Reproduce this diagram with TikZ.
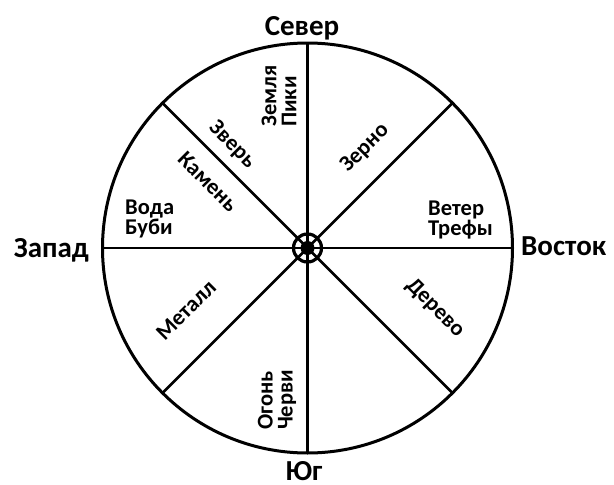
\documentclass[tikz,border=0pt]{standalone}
\usepackage{fontspec}
\setmainfont{Carlito}
\begin{document}
\begin{tikzpicture}[x=1pt,y=-1pt,
  ln/.style={line width=2.6pt},
  dirlbl/.style={font=\bfseries\fontsize{29}{32}\selectfont, inner sep=0pt},
  seclbl/.style={font=\bfseries\fontsize{22.5}{20}\selectfont, inner sep=0pt, align=left}]
\useasboundingbox (0,0) rectangle (614,485);
\node[circle, draw, line width=3pt, minimum size=410pt, outer sep=0pt, inner sep=0pt] (c) at (307.5,248) {};
\node[circle, draw, line width=3.2pt, minimum size=28pt, outer sep=0pt, inner sep=0pt] (h) at (307.5,248) {};
\fill (h.center) circle (7);
\draw[ln] (c.north) -- (c.south);
\draw[ln] (c.west) -- (c.east);
\draw[ln] (c.north west) -- (c.south east);
\draw[ln] (c.north east) -- (c.south west);
% directions
\node[dirlbl, anchor=base] (n) at (302,35) {Север};
\node[dirlbl, anchor=base] (s) at (304,480) {Юг};
\node[dirlbl, anchor=base east] (w) at (89,257) {Запад};
\node[dirlbl, anchor=base west] (e) at (521,255) {Восток};
% sector labels
\node[seclbl, rotate=90, anchor=west] (l1) at (279,127) {Земля\\Пики};
\node[seclbl, rotate=90, anchor=west] (l2) at (277,430) {Огонь\\Черви};
\node[seclbl, anchor=west] (l3) at (125,219) {Вода\\Буби};
\node[seclbl, anchor=west] (l4) at (428,220) {Ветер\\Трефы};
\node[seclbl, rotate=-45] (l5) at (232,145) {Зверь};
\node[seclbl, rotate=-45] (l6) at (208,182) {Камень};
\node[seclbl, rotate=45] (l7) at (365,148) {Зерно};
\node[seclbl, rotate=45] (l8) at (186,310) {Металл};
\node[seclbl, rotate=-45] (l9) at (435,308) {Дерево};
\end{tikzpicture}
\end{document}
